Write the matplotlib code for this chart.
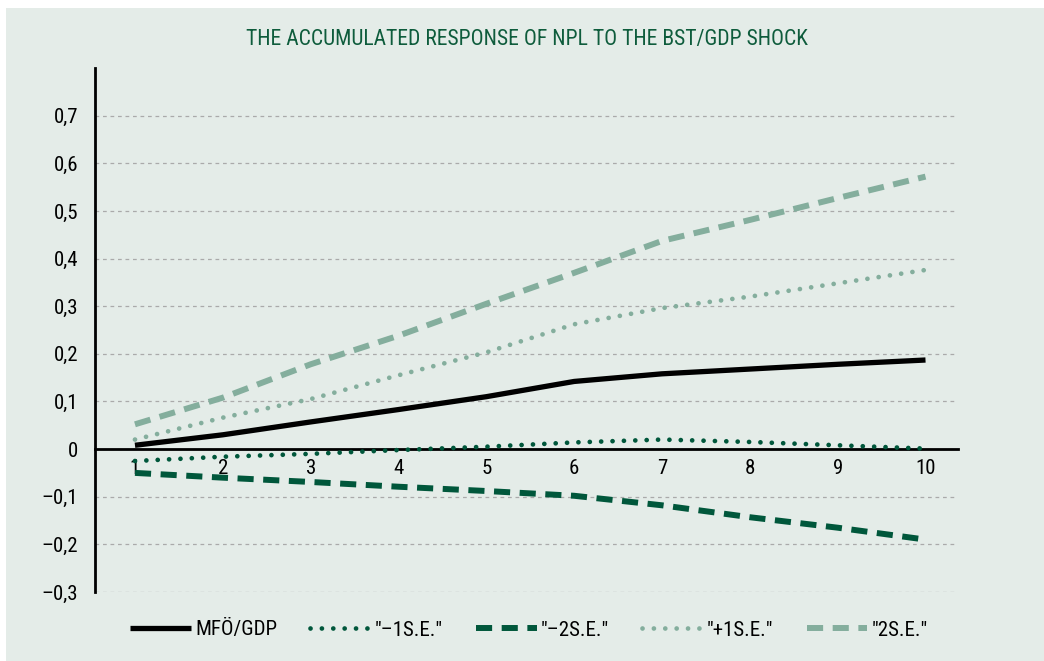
import matplotlib
matplotlib.use("Agg")
import matplotlib.pyplot as plt
from matplotlib.patches import Rectangle

plt.rcParams['font.family'] = ['Liberation Sans Narrow', 'Roboto Condensed', 'Liberation Sans', 'DejaVu Sans']

periods = [1, 2, 3, 4, 5, 6, 7, 8, 9, 10]
response = [0.008, 0.030, 0.057, 0.083, 0.110, 0.142, 0.158, 0.168, 0.178, 0.187]
minus_1se = [-0.025, -0.016, -0.010, -0.002, 0.005, 0.014, 0.020, 0.015, 0.008, 0.001]
minus_2se = [-0.050, -0.060, -0.069, -0.079, -0.088, -0.098, -0.118, -0.143, -0.165, -0.190]
plus_1se = [0.020, 0.066, 0.105, 0.155, 0.203, 0.262, 0.296, 0.320, 0.348, 0.376]
plus_2se = [0.052, 0.108, 0.178, 0.238, 0.305, 0.370, 0.437, 0.481, 0.527, 0.572]

y_ticks = [-0.3, -0.2, -0.1, 0, 0.1, 0.2, 0.3, 0.4, 0.5, 0.6, 0.7]
y_labels = ["\u20130,3", "\u20130,2", "\u20130,1", "0", "0,1", "0,2", "0,3", "0,4", "0,5", "0,6", "0,7"]

title = "THE ACCUMULATED RESPONSE OF NPL TO THE BST/GDP SHOCK"
labels = ["MF\u00d6/GDP", "\"\u20131S.E.\"", "\"\u20132S.E.\"", "\"+1S.E.\"", "\"2S.E.\""]

bg = "#e4ece8"
dark = "#00573b"
light = "#84ae9d"

fig = plt.figure(figsize=(10.44, 6.61), dpi=100)
fig.patch.set_facecolor("white")
fig.patches.append(Rectangle((6 / 1044, 0), 1, 1 - 8 / 661, transform=fig.transFigure,
                             facecolor=bg, edgecolor="none", zorder=-10))

ax = fig.add_axes([95 / 1044, 1 - 592 / 661, (958 - 95) / 1044, (592 - 68) / 661])
ax.set_facecolor("none")

ax.plot(periods, response, color="black", lw=3.8, solid_capstyle="butt", label=labels[0], zorder=5)
ax.plot(periods, minus_1se, color=dark, lw=3.4, linestyle=(0, (0.01, 2.4)),
        dash_capstyle="round", label=labels[1], zorder=4)
ax.plot(periods, minus_2se, color=dark, lw=4.3, linestyle=(0, (2.7, 1.6)),
        dash_capstyle="butt", label=labels[2], zorder=4)
ax.plot(periods, plus_1se, color=light, lw=3.4, linestyle=(0, (0.01, 2.4)),
        dash_capstyle="round", label=labels[3], zorder=4)
ax.plot(periods, plus_2se, color=light, lw=4.3, linestyle=(0, (2.7, 1.6)),
        dash_capstyle="butt", label=labels[4], zorder=4)

ax.set_xlim(0.545, 10.37)
ax.set_ylim(-0.3, 0.80)

ax.set_yticks(y_ticks)
ax.set_yticklabels(y_labels)
ax.set_xticks(periods)
ax.set_xticklabels([str(p) for p in periods])
ax.tick_params(axis="y", length=0, pad=12, labelsize=15)
ax.tick_params(axis="x", length=0, pad=7, labelsize=15)

ax.yaxis.grid(True, color="#aaaaaa", lw=0.9, linestyle=(0, (3, 3)))
ax.set_axisbelow(True)

for side in ["top", "right"]:
    ax.spines[side].set_visible(False)
ax.spines["left"].set_linewidth(2)
ax.spines["bottom"].set_position(("data", 0))
ax.spines["bottom"].set_linewidth(2)
ax.spines["bottom"].set_zorder(3)

fig.text(527 / 1044, 1 - 40 / 661, title, ha="center", va="center", fontsize=15.6, color="#0e5c3c")

fig.legend(loc="center", bbox_to_anchor=(529 / 1044, 1 - 630 / 661), ncol=5, frameon=False,
           fontsize=15, handlelength=2.9, handletextpad=0.2, columnspacing=1.6)

fig.savefig("out.png", dpi=100, facecolor=fig.get_facecolor())
